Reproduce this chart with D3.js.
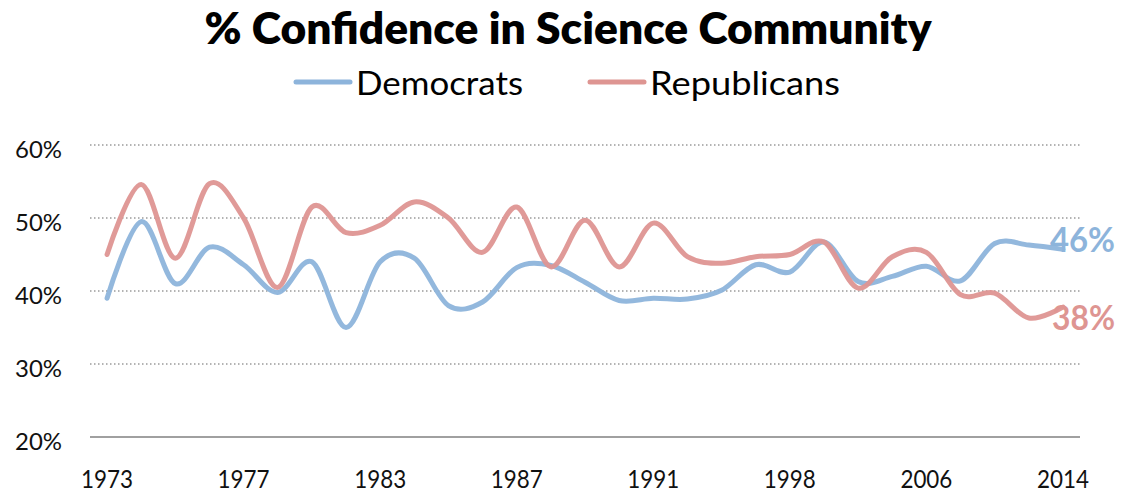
<!DOCTYPE html>
<html><head><meta charset="utf-8">
<script src="https://cdn.jsdelivr.net/npm/d3@7"></script>
<style>
html,body{margin:0;padding:0;background:#fff;}
svg{display:block;font-family:Lato, "Open Sans", sans-serif;}
</style></head>
<body><svg id="chart" width="1134" height="493"></svg>
<script>
const years = [1973,1974,1975,1976,1977,1978,1980,1982,1983,1984,1985,1986,1987,1988,1989,1990,1991,1993,1994,1996,1998,2000,2002,2004,2006,2008,2010,2012,2014];
const democrats = [39,49.5,41,46,43.6,39.8,44,35,44,44.5,38,38.5,43.2,43.5,41.2,38.7,39,38.9,40.1,43.6,42.6,46.7,41.3,42,43.4,41.4,46.5,46.3,45.7];
const republicans = [45,54.6,44.5,54.7,50,40.5,51.5,48,49,52.2,50,45.3,51.5,43.3,49.7,43.3,49.3,44.7,43.8,44.7,45,46.7,40.4,44.7,45.3,39.5,39.7,36.3,37.8];
const xTickLabels = [1973,1977,1983,1987,1991,1998,2006,2014];
const yTicks = [20,30,40,50,60];
const seriesNames = ["Democrats","Republicans"];
const colors = ["#8DB4DB","#DE9592"];
const endLabels = ["46%","38%"];

const svg = d3.select("#chart");
const x = d3.scaleBand().domain(years).range([90,1080]).padding(0);
const cx = d => x(d) + x.bandwidth()/2;
const y = d3.scaleLinear().domain([20,60]).range([437,145]);

// gridlines
svg.append("g").selectAll("line").data(yTicks.filter(t=>t>20)).join("line")
  .attr("x1",90).attr("x2",1080).attr("y1",d=>y(d)).attr("y2",d=>y(d))
  .attr("stroke","#9a9a9a").attr("stroke-width",1.3).attr("stroke-dasharray","1.5,2.5");
// base axis line
svg.append("line").attr("x1",90).attr("x2",1080).attr("y1",y(20)).attr("y2",y(20))
  .attr("stroke","#a0a0a0").attr("stroke-width",2);

// y axis labels
const yAxis = d3.axisLeft(y).tickValues(yTicks).tickFormat(d=>d+"%").tickSize(0).tickPadding(0);
const gy = svg.append("g").attr("transform","translate(62,0)").call(yAxis);
gy.select(".domain").remove();
gy.selectAll("text").attr("font-family","Lato, sans-serif").attr("font-size",24).attr("fill","#111")
  .attr("dy","0.5em").attr("textLength",47).attr("lengthAdjust","spacingAndGlyphs");

// x axis labels
const xAxis = d3.axisBottom(x).tickValues(xTickLabels).tickSize(0).tickPadding(0);
const gx = svg.append("g").attr("transform","translate(0,470)").call(xAxis);
gx.select(".domain").remove();
gx.selectAll("text").attr("font-family","Lato, sans-serif").attr("font-size",25).attr("fill","#111")
  .attr("dy","0.72em").attr("textLength",52).attr("lengthAdjust","spacingAndGlyphs");

// end labels (drawn under lines)
svg.append("text").attr("x",1050).attr("y",240).attr("dy","0.35em").text(endLabels[0])
  .attr("fill",colors[0]).attr("font-size",35).attr("font-weight",700).attr("font-family","Lato, sans-serif")
  .attr("textLength",65).attr("lengthAdjust","spacingAndGlyphs");
svg.append("text").attr("x",1052).attr("y",318).attr("dy","0.35em").text(endLabels[1])
  .attr("fill",colors[1]).attr("font-size",35).attr("font-weight",700).attr("font-family","Lato, sans-serif")
  .attr("textLength",63).attr("lengthAdjust","spacingAndGlyphs");

// lines
const line = d3.line().x((d,i)=>cx(years[i])).y(d=>y(d)).curve(d3.curveCardinal.tension(0));
[democrats, republicans].forEach((s,k)=>{
  svg.append("path").datum(s).attr("d",line).attr("fill","none")
    .attr("stroke",colors[k]).attr("stroke-width",5).attr("stroke-opacity",0.95)
    .attr("stroke-linecap","round").attr("stroke-linejoin","round");
});

// title
svg.append("text").attr("x",568).attr("y",44).attr("text-anchor","middle")
  .attr("font-family","Lato, sans-serif").attr("font-weight",800).attr("font-size",43)
  .attr("textLength",727).attr("lengthAdjust","spacingAndGlyphs").attr("fill","#000")
  .text("% Confidence in Science Community");

// legend
const legX = [296, 590];
const legW = [167, 190];
seriesNames.forEach((n,i)=>{
  svg.append("line").attr("x1",legX[i]).attr("x2",legX[i]+54).attr("y1",82).attr("y2",82)
    .attr("stroke",colors[i]).attr("stroke-width",5).attr("stroke-linecap","round");
  svg.append("text").attr("x",legX[i]+60).attr("y",95).text(n)
    .attr("font-family","Lato, sans-serif").attr("font-size",32).attr("fill","#000")
    .attr("textLength",legW[i]).attr("lengthAdjust","spacingAndGlyphs");
});
</script></body></html>
